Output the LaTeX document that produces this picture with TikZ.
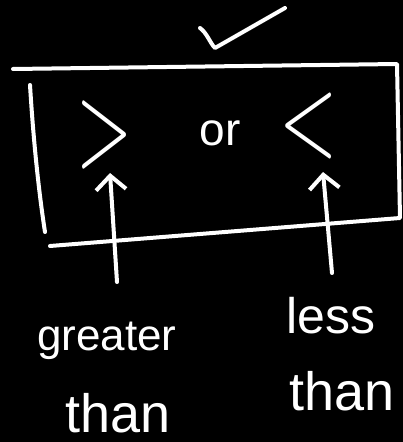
\documentclass[tikz,border=0pt]{standalone}
\usepackage{fontspec}
\setmainfont{Liberation Sans}
\usetikzlibrary{arrows.meta}
\tikzset{
  chalk/.style={draw=white, line width=4pt, line cap=round, line join=round},
  word/.style={text=white, inner sep=0pt, anchor=base west, font=\fontsize{44}{44}\selectfont},
  sym/.style={text=white, inner sep=0pt},
  uparrow/.style={chalk, -{Straight Barb[length=14pt,width=30pt,line width=4pt]}}
}
\begin{document}
\begin{tikzpicture}[x=1pt,y=-1pt]
  % black board
  \fill[black] (0,0) rectangle (403,442);
  \useasboundingbox (0,0) rectangle (403,442);

  % tick above the box
  \draw[chalk] (200,28) .. controls (207,33) and (210,43) .. (215,48) -- (285,8);

  % the box: top, right and bottom in one stroke, left side apart
  \draw[chalk] (13,69) -- (397,64) -- (400,218) -- (50,246);
  \draw[chalk] (30,85) .. controls (34,150) and (40,200) .. (45,232);

  % comparison signs and the word between them
  \node[sym] (gt) at (104,135) {\scalebox{7.2}[11.8]{$>$}};
  \node[sym] (lt) at (309,126) {\scalebox{7.5}[11.4]{$<$}};
  \node[word, anchor=center, font=\fontsize{46}{46}\selectfont] (or) at (220,133) {or};

  % labels
  \node[word] (g1) at (37,350) {greater};
  \node[word, font=\fontsize{54}{54}\selectfont] (g2) at (65,432) {than};
  \node[word, font=\fontsize{50}{50}\selectfont] (l1) at (286,333) {less};
  \node[word, font=\fontsize{54}{54}\selectfont] (l2) at (289,410) {than};

  % arrows from the labels up to the signs
  \coordinate (gtail) at (117,282);
  \coordinate (gtip) at (110,173);
  \coordinate (ltail) at (332,273);
  \coordinate (ltip) at (323,172);
  \draw[uparrow] (gtail) -- (gtip);
  \draw[uparrow] (ltail) -- (ltip);
\end{tikzpicture}
\end{document}
